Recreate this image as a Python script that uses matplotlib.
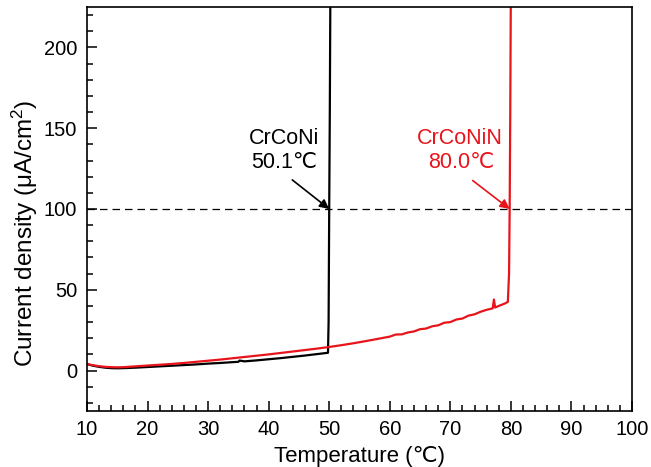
import matplotlib
matplotlib.use("Agg")
import matplotlib.pyplot as plt
from matplotlib.ticker import MultipleLocator

plt.rcParams['font.family'] = ['Liberation Sans', 'DejaVu Sans']
plt.rcParams['mathtext.fontset'] = 'custom'
plt.rcParams['mathtext.rm'] = 'Liberation Sans'
plt.rcParams['mathtext.it'] = 'Liberation Sans:italic'

# CrCoNi (black) polarization vs temperature
temp_crconi = [10, 11, 12, 13, 14, 15, 16, 18, 20, 22, 24, 26, 28, 30, 32, 34,
               35, 35.2, 36, 38, 40, 42, 44, 46, 48, 49.8, 49.9, 50.0, 50.1, 50.2]
cur_crconi = [4.0, 3.0, 2.3, 1.8, 1.5, 1.4, 1.5, 1.8, 2.2, 2.6, 3.0, 3.4, 3.8, 4.3, 4.7, 5.2,
              5.4, 6.2, 5.7, 6.3, 7.0, 7.7, 8.5, 9.3, 10.2, 11.0, 30.0, 100.0, 160.0, 240.0]

# CrCoNiN (red)
temp_crconin = [10, 11, 12, 13, 14, 15, 16, 18, 20, 22, 24, 26, 28, 30, 32, 34, 36, 38,
                40, 42, 44, 46, 48, 50, 52, 54, 56, 58, 60, 61, 62, 63, 64, 65, 66, 67,
                68, 69, 70, 71, 72, 73, 74, 75, 76, 77.0, 77.2, 77.4, 78, 79, 79.5,
                79.7, 79.8, 79.9, 80.0]
cur_crconin = [4.0, 3.3, 2.7, 2.3, 2.1, 2.0, 2.1, 2.6, 3.1, 3.6, 4.1, 4.7, 5.4, 6.1, 6.8, 7.6, 8.4, 9.2,
               10.0, 10.9, 11.8, 12.7, 13.6, 14.6, 15.7, 16.9, 18.2, 19.6, 21.0, 22.3, 22.4, 23.6, 24.2, 25.6, 26.0, 27.4,
               28.0, 29.6, 30.0, 31.6, 32.2, 34.0, 34.8, 36.4, 37.6, 38.5, 44.0, 39.0, 40.0, 41.5, 42.5,
               60.0, 100.0, 160.0, 240.0]

threshold = 100
red = '#e8141c'

fig = plt.figure(figsize=(6.51, 4.67), dpi=100)
ax = fig.add_axes([0.1336, 0.12, 0.8372, 0.865])

ax.axhline(threshold, color='black', linestyle=(0, (6, 4)), linewidth=0.9)
ax.plot(temp_crconi, cur_crconi, color='black', linewidth=1.6)
ax.plot(temp_crconin, cur_crconin, color=red, linewidth=1.6)

ax.annotate('', xy=(50.0, 100), xytext=(43.9, 118),
            arrowprops=dict(arrowstyle='-|>', color='black', lw=1.2, mutation_scale=14,
                            shrinkA=0, shrinkB=0))
ax.text(42.5, 143.5, 'CrCoNi', color='black', fontsize=15.5, ha='center', va='center')
ax.text(42.5, 128.5, '50.1℃', color='black', fontsize=15.5, ha='center', va='center')

ax.annotate('', xy=(79.8, 100), xytext=(73.7, 117.6),
            arrowprops=dict(arrowstyle='-|>', color=red, lw=1.2, mutation_scale=14,
                            shrinkA=0, shrinkB=0))
ax.text(71.6, 143.5, 'CrCoNiN', color=red, fontsize=15.5, ha='center', va='center')
ax.text(71.8, 128.5, '80.0℃', color=red, fontsize=15.5, ha='center', va='center')

ax.set_xlim(10, 100)
ax.set_ylim(-25, 225)
ax.xaxis.set_major_locator(MultipleLocator(10))
ax.xaxis.set_minor_locator(MultipleLocator(2))
ax.yaxis.set_major_locator(MultipleLocator(50))
ax.yaxis.set_minor_locator(MultipleLocator(10))
ax.tick_params(which='both', direction='in', top=False, right=False, labelsize=14.5, width=1.1)
ax.tick_params(which='major', length=7)
ax.tick_params(which='minor', length=4)
ax.tick_params(axis='x', which='major', pad=6.5)
ax.tick_params(axis='y', which='major', pad=7)
for s in ax.spines.values():
    s.set_linewidth(1.2)

ax.set_xlabel('Temperature (℃)', fontsize=16, labelpad=5)
ax.set_ylabel('Current density (μA/cm$^2$)', fontsize=17.5)
ax.yaxis.set_label_coords(-0.087, 0.44)

fig.savefig('out.png', dpi=100)
